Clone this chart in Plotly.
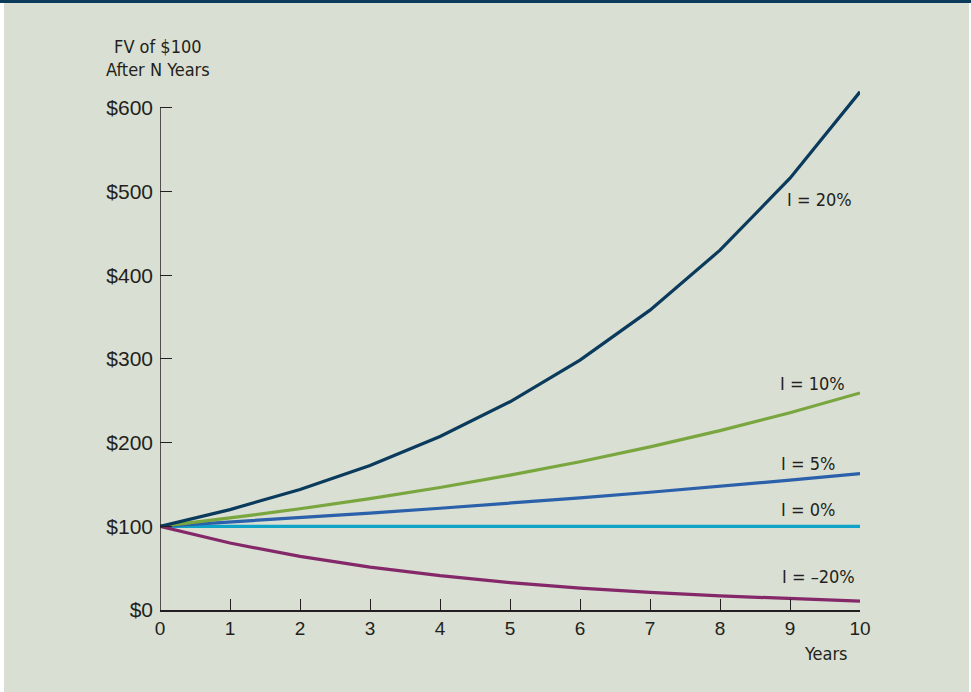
import plotly.graph_objects as go

years = [0, 1, 2, 3, 4, 5, 6, 7, 8, 9, 10]
fv_20 = [100, 120, 144, 172.8, 207.4, 248.8, 298.6, 358.3, 430.0, 516.0, 619.2]
fv_10 = [100, 110, 121, 133.1, 146.4, 161.1, 177.2, 194.9, 214.4, 235.8, 259.4]
fv_5 = [100, 105, 110.3, 115.8, 121.6, 127.6, 134.0, 140.7, 147.7, 155.1, 162.9]
fv_0 = [100, 100, 100, 100, 100, 100, 100, 100, 100, 100, 100]
fv_m20 = [100, 80, 64, 51.2, 41.0, 32.8, 26.2, 21.0, 16.8, 13.4, 10.7]

series = [
    ("I = 0%", fv_0, "#10a3c8"),
    ("I = 5%", fv_5, "#2b60aa"),
    ("I = 10%", fv_10, "#7aa640"),
    ("I = –20%", fv_m20, "#84286a"),
    ("I = 20%", fv_20, "#0a3a5c"),
]

y_ticks = [0, 100, 200, 300, 400, 500, 600]
y_tick_labels = ["$0", "$100", "$200", "$300", "$400", "$500", "$600"]
x_ticks = [0, 1, 2, 3, 4, 5, 6, 7, 8, 9, 10]

labels = [
    ("I = 20%", 9.42, 490),
    ("I = 10%", 9.32, 271),
    ("I = 5%", 9.25, 175),
    ("I = 0%", 9.25, 120),
    ("I = –20%", 9.4, 40),
]

narrow = "DejaVu Sans Condensed, Liberation Sans Narrow, Arial Narrow, Liberation Sans, sans-serif"
sans = "Liberation Sans, Arial, sans-serif"
txt = "#231f20"

Y_TOP = 625  # room above $600 for the 20% curve

fig = go.Figure()
for name, vals, col in series:
    fig.add_trace(go.Scatter(x=years, y=vals, mode="lines", name=name,
                             line=dict(color=col, width=3.2), cliponaxis=False,
                             showlegend=False, hoverinfo="skip"))

for t, x, y in labels:
    fig.add_annotation(x=x, y=y, text=t, showarrow=False, xanchor="center",
                       yanchor="middle", font=dict(family=narrow, size=18, color=txt))

fig.add_annotation(xref="paper", yref="paper", x=-0.003, y=(610 - 82) / 523,
                   text="FV of $100<br>After N Years",
                   showarrow=False, xanchor="center", yanchor="bottom", align="center",
                   font=dict(family=narrow, size=18, color=txt))
fig.add_annotation(xref="paper", yref="paper", x=0.951, y=(610 - 641) / 523, text="Years",
                   showarrow=False, xanchor="center", yanchor="top",
                   font=dict(family=narrow, size=18, color=txt))

# y axis line only up to $600
fig.add_shape(type="line", xref="x", yref="y", x0=0, x1=0, y0=0, y1=600,
              line=dict(color=txt, width=1.5), layer="above")

# frame decoration
fig.add_shape(type="rect", xref="paper", yref="paper", x0=-0.25, x1=(4 - 160) / 700,
              y0=-0.3, y1=1.3, fillcolor="white", line_width=0, layer="below")
fig.add_shape(type="rect", xref="paper", yref="paper", x0=(969 - 160) / 700, x1=1.3,
              y0=-0.3, y1=1.3, fillcolor="white", line_width=0, layer="below")
fig.add_shape(type="rect", xref="paper", yref="paper", x0=-0.25, x1=1.3,
              y0=(610 - 3) / 523, y1=1.3, fillcolor="#0b3a5a", line_width=0, layer="below")

fig.update_layout(
    width=971, height=692,
    margin=dict(l=160, r=111, t=87, b=82),
    paper_bgcolor="#d9dfd2", plot_bgcolor="rgba(0,0,0,0)",
    font=dict(family=sans, size=20, color=txt),
    xaxis=dict(range=[0, 10], tickvals=x_ticks, ticks="inside", ticklen=11,
               tickcolor=txt, tickwidth=1.3, showline=True, linecolor=txt, linewidth=1.5,
               showgrid=False, zeroline=False, tickfont=dict(family=sans, size=19, color=txt)),
    yaxis=dict(range=[0, Y_TOP], tickvals=y_ticks, ticktext=y_tick_labels, ticks="inside",
               ticklen=12, tickcolor=txt, tickwidth=1.3, showline=False,
               showgrid=False, zeroline=False, ticklabelstandoff=6,
               tickfont=dict(family=sans, size=21, color=txt)),
)

fig.write_html("out.html")
